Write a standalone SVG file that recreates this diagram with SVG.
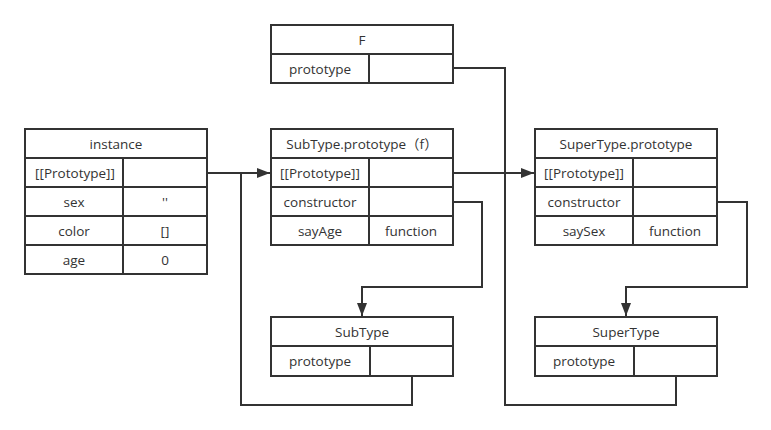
<svg xmlns="http://www.w3.org/2000/svg" width="771" height="430" viewBox="0 0 771 430">
<style>
.box{fill:#fff;stroke:#333;stroke-width:2}
.ln{stroke:#333;stroke-width:2;fill:none}
.t{font-family:"Open Sans","Noto Sans CJK SC",sans-serif;font-size:13.5px;fill:#333;text-anchor:middle;dominant-baseline:central}
.c{stroke:#333;stroke-width:2;fill:none}
</style>
<defs>
<marker id="arr" markerUnits="userSpaceOnUse" markerWidth="14" markerHeight="10" refX="13" refY="5" orient="auto">
<path d="M0,0 L13,5 L0,10 z" fill="#333"/>
</marker>
</defs>
<rect width="771" height="430" fill="#fff"/>
<g id="connectors">
<path class="c" d="M207,173 H270" marker-end="url(#arr)"/>
<path class="c" d="M453,173 H534" marker-end="url(#arr)"/>
<path class="c" d="M453,68 H505 V405 H676 V376"/>
<path class="c" d="M453,202 H482 V287 H362 V316" marker-end="url(#arr)"/>
<path class="c" d="M717,202 H747 V287 H626 V316" marker-end="url(#arr)"/>
<path class="c" d="M412,376 V405 H241 V173"/>
</g>
<g id="instance">
<rect class="box" x="25" y="129" width="182" height="145"/>
<path class="ln" d="M25,158 H207 M25,187 H207 M25,216 H207 M25,245 H207 M123,158 V274"/>
<text class="t" x="116" y="144">instance</text>
<text class="t" x="75" y="173">[[Prototype]]</text>
<text class="t" x="74" y="202">sex</text>
<text class="t" x="165" y="202">''</text>
<text class="t" x="74" y="231">color</text>
<text class="t" x="165" y="231">[]</text>
<text class="t" x="74" y="260">age</text>
<text class="t" x="165" y="260">0</text>
</g>
<g id="F">
<rect class="box" x="271" y="25" width="182" height="58"/>
<path class="ln" d="M271,54 H453 M369,54 V83"/>
<text class="t" x="362" y="40">F</text>
<text class="t" x="320" y="69">prototype</text>
</g>
<g id="subtype-prototype">
<rect class="box" x="271" y="129" width="182" height="116"/>
<path class="ln" d="M271,158 H453 M271,187 H453 M271,216 H453 M369,158 V245"/>
<text class="t" x="362" y="144">SubType.prototype（f）</text>
<text class="t" x="320" y="173">[[Prototype]]</text>
<text class="t" x="320" y="202">constructor</text>
<text class="t" x="320" y="231">sayAge</text>
<text class="t" x="411" y="231">function</text>
</g>
<g id="supertype-prototype">
<rect class="box" x="535" y="129" width="182" height="116"/>
<path class="ln" d="M535,158 H717 M535,187 H717 M535,216 H717 M633,158 V245"/>
<text class="t" x="626" y="144">SuperType.prototype</text>
<text class="t" x="584" y="173">[[Prototype]]</text>
<text class="t" x="584" y="202">constructor</text>
<text class="t" x="584" y="231">saySex</text>
<text class="t" x="675" y="231">function</text>
</g>
<g id="subtype">
<rect class="box" x="271" y="317" width="182" height="59"/>
<path class="ln" d="M271,346 H453 M370,346 V376"/>
<text class="t" x="362" y="332">SubType</text>
<text class="t" x="320" y="361">prototype</text>
</g>
<g id="supertype">
<rect class="box" x="535" y="317" width="182" height="59"/>
<path class="ln" d="M535,346 H717 M634,346 V376"/>
<text class="t" x="626" y="332">SuperType</text>
<text class="t" x="584" y="361">prototype</text>
</g>
</svg>
